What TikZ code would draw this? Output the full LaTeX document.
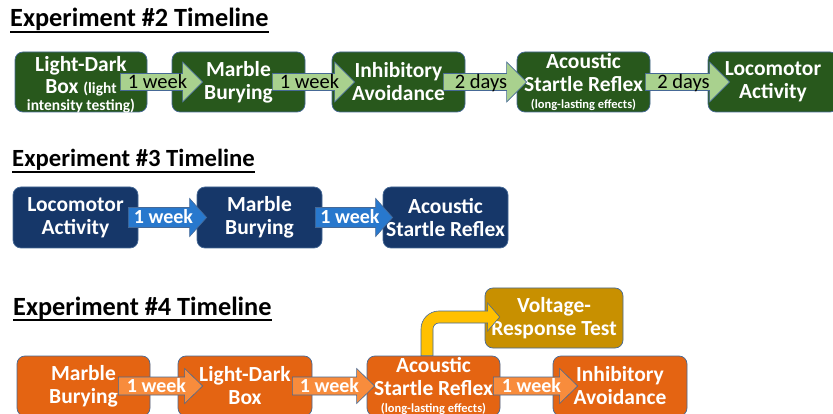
\documentclass[tikz,border=0pt]{standalone}
\usepackage{fontspec}
\setmainfont{Carlito}
\usetikzlibrary{calc}
\definecolor{gbox}{RGB}{40,88,28}
\definecolor{garr}{RGB}{169,209,142}
\definecolor{nbox}{RGB}{22,55,105}
\definecolor{barr}{RGB}{40,120,205}
\definecolor{obox}{RGB}{228,100,18}
\definecolor{oarr}{RGB}{248,140,60}
\definecolor{gold}{RGB}{200,144,0}
\definecolor{yarr}{RGB}{255,192,0}
\definecolor{edge}{RGB}{70,105,150}
\def\ashaft{8.5pt}\def\ahead{20pt}\def\alen{20pt}
\newcommand\blockarr[7]{%
  \path[#5] let \p1=($(#1.east)+(-#2,0)$), \p2=($(#3.west)+(#4,0)$) in
    (\x1,\y1+\ashaft) -- (\x2-\alen,\y1+\ashaft) -- (\x2-\alen,\y1+\ahead) -- (\x2,\y1)
    -- (\x2-\alen,\y1-\ahead) -- (\x2-\alen,\y1-\ashaft) -- (\x1,\y1-\ashaft) -- cycle
    node[#7] at ({(\x1+\x2)/2-4pt},\y1) {#6};}
\newcommand\smalltxt{\fontsize{15.5}{17}\selectfont}
\newcommand\tinytxt{\fontsize{12.5}{14}\selectfont}
\begin{document}
\begin{tikzpicture}[x=1pt,y=-1pt,
  boxtext/.style={text=white, font=\bfseries\fontsize{21.5}{23}\selectfont, align=center, inner sep=0pt},
  box/.style={rounded corners=8pt, draw=edge, line width=0.7pt, fill=#1, boxtext, minimum height=60pt},
  title/.style={anchor=base west, inner sep=0pt, font=\bfseries\fontsize{26.3}{28}\selectfont},
  uline/.style={line width=1.8pt},
  garrow/.style={fill=garr, draw=edge, line width=0.6pt},
  barrow/.style={fill=barr, draw=edge, line width=0.6pt},
  oarrow/.style={fill=oarr, draw=edge, line width=0.6pt},
  glabel/.style={inner sep=0pt, text height=12.5pt, text depth=0pt, anchor=center, text=black,
    font=\fontsize{20.5}{21}\selectfont},
  wlabel/.style={inner sep=0pt, text height=12.5pt, text depth=0pt, anchor=center, text=white,
    font=\bfseries\fontsize{20}{21}\selectfont}]
\useasboundingbox (0,0) rectangle (833,414);
\clip (0,0) rectangle (833,414);
\fill[white] (0,0) rectangle (833,414);

% ---- titles
\node[title] (t2) at (10,27) {Experiment \#2 Timeline};
\draw[uline] ($(t2.base west)+(0,5)$) -- ($(t2.base east)+(0,5)$);
\node[title, font=\bfseries\fontsize{24.7}{26}\selectfont] (t3) at (12,167) {Experiment \#3 Timeline};
\draw[uline] ($(t3.base west)+(0,5)$) -- ($(t3.base east)+(0,5)$);
\node[title] (t4) at (13,315) {Experiment \#4 Timeline};
\draw[uline] ($(t4.base west)+(0,5)$) -- ($(t4.base east)+(0,5)$);

% ---- Experiment 2
\node[box=gbox, minimum width=132pt,
  label={[boxtext, yshift=-3pt]center:{Light-Dark\\[-1pt]Box {\smalltxt(light}\\[-6pt]{\smalltxt intensity testing)}}}]
  (e2a) at (81,82) {};
\node[box=gbox, minimum width=133pt] (e2b) at (238.5,82) {Marble\\Burying};
\node[box=gbox, minimum width=133pt] (e2c) at (398.5,82) {Inhibitory\\Avoidance};
\node[box=gbox, minimum width=133pt] (e2d) at (583.5,82)
  {Acoustic\\Startle Reflex\\[-6pt]{\tinytxt(long-lasting effects)}};
\node[box=gbox, minimum width=130pt] (e2e) at (773,82) {Locomotor\\Activity};
\blockarr{e2a}{27}{e2b}{31}{garrow}{1 week}{glabel}
\blockarr{e2b}{33}{e2c}{23}{garrow}{1 week}{glabel}
\blockarr{e2c}{22}{e2d}{10}{garrow}{2 days}{glabel}
\blockarr{e2d}{5}{e2e}{22}{garrow}{2 days}{glabel}

% ---- Experiment 3
\node[box=nbox, minimum width=125pt, minimum height=61pt] (e3a) at (75.5,217.5) {Locomotor\\Activity};
\node[box=nbox, minimum width=125pt, minimum height=61pt] (e3b) at (259.5,217.5) {Marble\\Burying};
\node[box=nbox, minimum width=125pt, minimum height=61pt] (e3c) at (445.5,217.5) {Acoustic\\Startle Reflex};
\def\ashaft{10pt}\def\ahead{19pt}\def\alen{17pt}
\blockarr{e3a}{10}{e3b}{10}{barrow}{1 week}{wlabel}
\blockarr{e3b}{7}{e3c}{10}{barrow}{1 week}{wlabel}

% ---- Experiment 4
\node[box=obox, minimum width=133pt] (e4a) at (83.5,386) {Marble\\Burying};
\node[box=obox, minimum width=134pt] (e4b) at (245,386) {Light-Dark\\Box};
\node[box=obox, minimum width=133pt] (e4c) at (433.5,386)
  {Acoustic\\Startle Reflex\\[-6pt]{\tinytxt(long-lasting effects)}};
\node[box=obox, minimum width=134pt] (e4d) at (620,386) {Inhibitory\\Avoidance};
\node[box=gold, minimum width=138pt] (vt) at (554,318) {Voltage-\\Response Test};
\def\ashaft{9pt}\def\ahead{17.5pt}\def\alen{18pt}
\blockarr{e4a}{32}{e4b}{25}{oarrow}{1 week}{wlabel}
\blockarr{e4b}{20}{e4c}{8}{oarrow}{1 week}{wlabel}
\blockarr{e4c}{7}{e4d}{25}{oarrow}{1 week}{wlabel}

% bent arrow to voltage-response test
\path[fill=yarr, draw=edge, line width=0.6pt]
  let \p1=($(e4c.north)+(-6.5,0)$), \p2=($(vt.west)+(15,-1)$) in
  (\x1-6pt,\y1) -- (\x1-6pt,\y2-12pt) arc[start angle=180, end angle=90, radius=18pt]
  -- (\x2-12pt,\y2+6pt) -- (\x2-12pt,\y2+14pt) -- (\x2,\y2) -- (\x2-12pt,\y2-14pt)
  -- (\x2-12pt,\y2-6pt) -- (\x1+12pt,\y2-6pt) arc[start angle=90, end angle=180, radius=6pt]
  -- (\x1+6pt,\y1) -- cycle;
\end{tikzpicture}
\end{document}
